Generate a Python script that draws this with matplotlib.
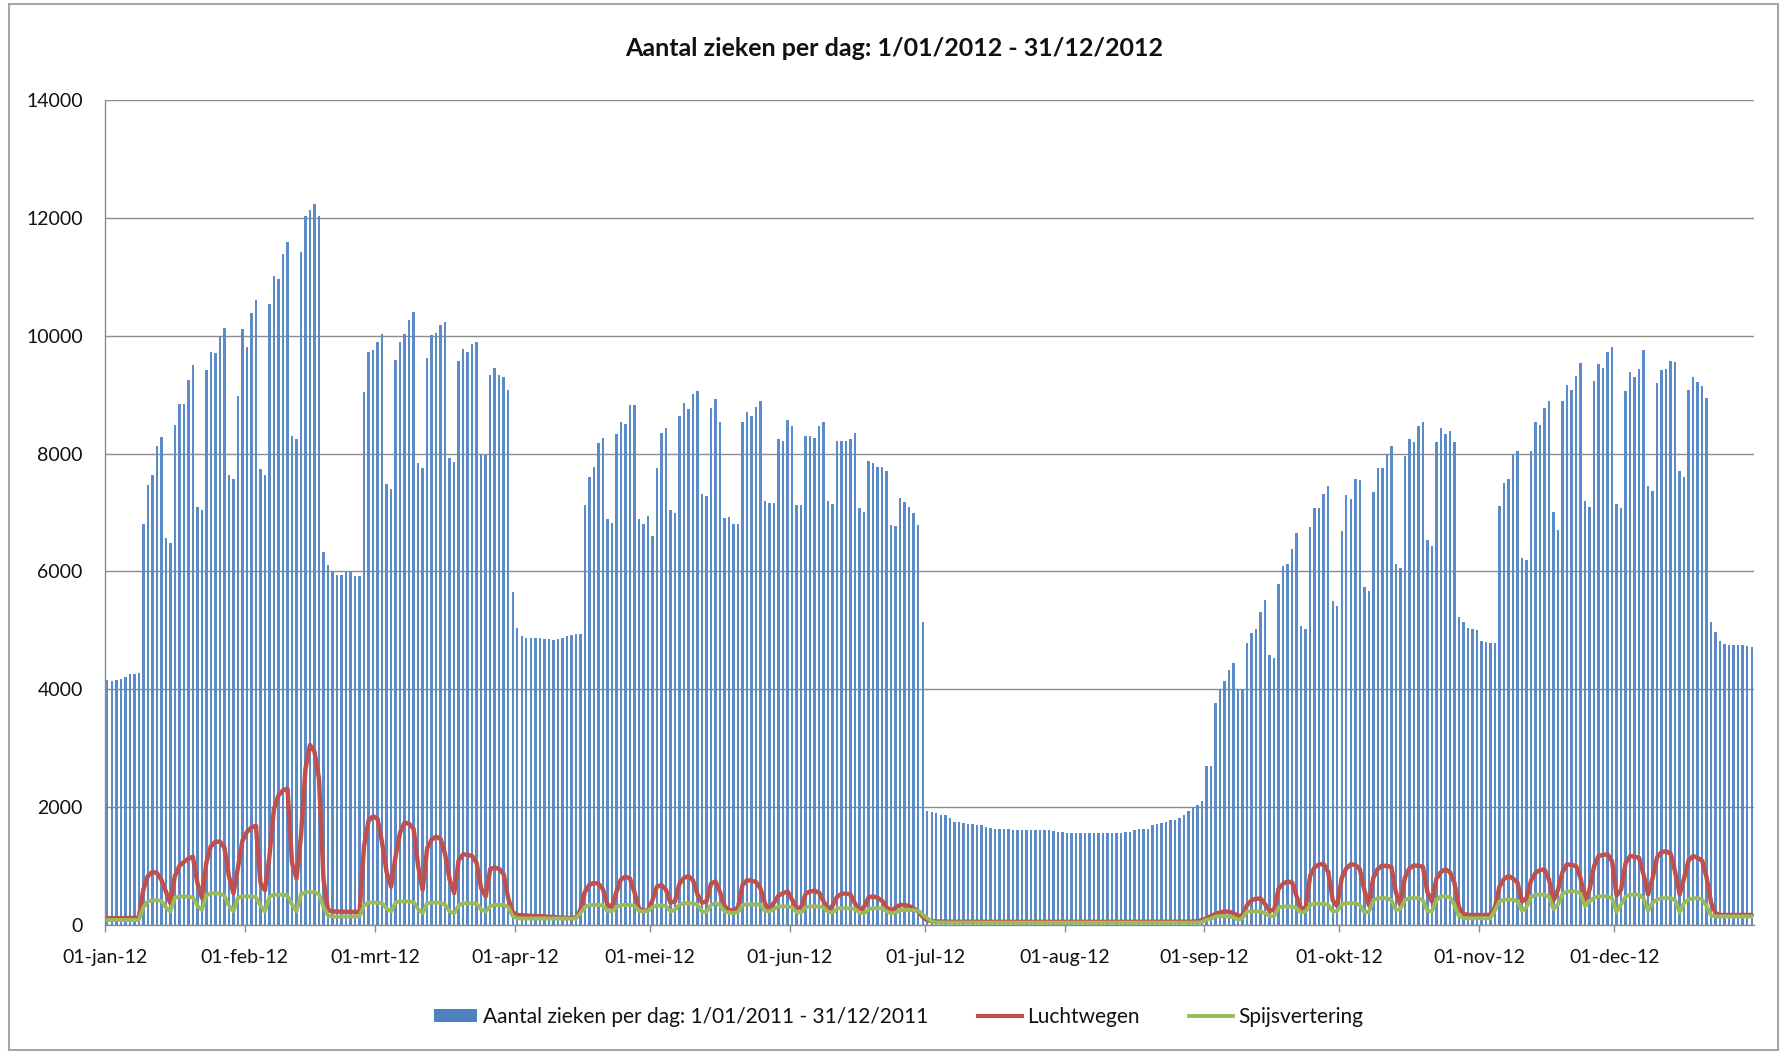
import numpy as np
import pandas as pd
import matplotlib
matplotlib.use("Agg")
import matplotlib.pyplot as plt
from matplotlib.patches import Rectangle, Patch
from matplotlib.lines import Line2D

title = "Aantal zieken per dag: 1/01/2012 - 31/12/2012"
series_names = ["Aantal zieken per dag: 1/01/2011 - 31/12/2011", "Luchtwegen", "Spijsvertering"]
month_labels = ["01-jan-12", "01-feb-12", "01-mrt-12", "01-apr-12", "01-mei-12", "01-jun-12",
                "01-jul-12", "01-aug-12", "01-sep-12", "01-okt-12", "01-nov-12", "01-dec-12"]
y_ticks = [0, 2000, 4000, 6000, 8000, 10000, 12000, 14000]

# daily values, 1 Jan 2012 .. 31 Dec 2012 (first 8 days, then weeks Mon..Sun, then 31 Dec)
zieken = [
    4160, 4135, 4150, 4175, 4215, 4260, 4260, 4280,
    6800, 7460, 7640, 8120, 8285, 6560, 6480,
    8490, 8835, 8835, 9255, 9500, 7090, 7050,
    9420, 9720, 9700, 9990, 10130, 7630, 7560,
    8970, 10110, 9805, 10380, 10600, 7730, 7640,
    10545, 11010, 10970, 11385, 11590, 8300, 8245,
    11425, 12025, 12130, 12230, 12025, 6330, 6105,
    5985, 5940, 5940, 5985, 5985, 5920, 5920,
    9040, 9720, 9765, 9890, 10030, 7480, 7400,
    9585, 9890, 10030, 10275, 10405, 7835, 7750,
    9625, 10010, 10050, 10175, 10240, 7930, 7860,
    9575, 9780, 9725, 9865, 9890, 7990, 7970,
    9335, 9460, 9330, 9295, 9080, 5655, 5040,
    4900, 4875, 4875, 4875, 4875, 4850, 4850,
    4835, 4850, 4875, 4900, 4915, 4930, 4930,
    7120, 7610, 7770, 8180, 8260, 6890, 6830,
    8340, 8530, 8505, 8820, 8820, 6890, 6805,
    6945, 6600, 7750, 8350, 8430, 7035, 6985,
    8630, 8860, 8755, 9010, 9065, 7320, 7280,
    8780, 8925, 8530, 6905, 6930, 6805, 6805,
    8530, 8710, 8630, 8795, 8885, 7190, 7160,
    7160, 8245, 8220, 8575, 8465, 7135, 7120,
    8300, 8300, 8270, 8465, 8530, 7190, 7150,
    8205, 8205, 8205, 8245, 8350, 7070, 7010,
    7875, 7835, 7770, 7770, 7710, 6780, 6765,
    7240, 7175, 7095, 6985, 6780, 5140, 1930,
    1915, 1900, 1875, 1860, 1815, 1750, 1750,
    1735, 1710, 1710, 1695, 1695, 1670, 1645,
    1625, 1625, 1625, 1625, 1620, 1610, 1610,
    1610, 1610, 1610, 1605, 1605, 1605, 1600,
    1585, 1585, 1565, 1560, 1560, 1560, 1560,
    1560, 1560, 1560, 1560, 1560, 1560, 1560,
    1565, 1570, 1585, 1610, 1625, 1625, 1630,
    1695, 1710, 1725, 1750, 1790, 1790, 1810,
    1875, 1930, 2000, 2040, 2105, 2700, 2690,
    3760, 4010, 4140, 4320, 4440, 4000, 3980,
    4790, 4960, 5030, 5310, 5510, 4575, 4525,
    5790, 6100, 6130, 6385, 6660, 5070, 5030,
    6750, 7075, 7070, 7315, 7445, 5490, 5410,
    6680, 7300, 7235, 7560, 7545, 5735, 5670,
    7340, 7750, 7750, 8000, 8120, 6125, 6065,
    7955, 8245, 8200, 8475, 8530, 6540, 6435,
    8200, 8435, 8340, 8390, 8200, 5230, 5135,
    5040, 5015, 5000, 4815, 4810, 4790, 4790,
    7110, 7505, 7560, 8000, 8040, 6230, 6190,
    8040, 8530, 8490, 8780, 8885, 7010, 6700,
    8885, 9165, 9080, 9310, 9535, 7200, 7095,
    9230, 9520, 9450, 9725, 9805, 7150, 7075,
    9065, 9380, 9300, 9440, 9760, 7445, 7365,
    9190, 9420, 9435, 9575, 9560, 7710, 7600,
    9080, 9295, 9215, 9150, 8940, 5135, 4980,
    4815, 4775, 4760, 4760, 4750, 4750, 4740,
    4725,
]

luchtwegen = [
    115, 115, 115, 115, 118, 120, 120, 125,
    600, 830, 900, 885, 770, 570, 370,
    830, 1000, 1070, 1125, 1160, 715, 460,
    1060, 1340, 1410, 1415, 1315, 830, 540,
    970, 1430, 1580, 1655, 1685, 715, 590,
    1170, 1970, 2200, 2285, 2315, 1055, 790,
    1515, 2655, 3055, 2940, 2485, 770, 255,
    230, 228, 225, 225, 225, 222, 220,
    1340, 1770, 1845, 1800, 1400, 900, 650,
    1170, 1570, 1740, 1715, 1630, 1000, 600,
    1300, 1450, 1500, 1460, 1200, 770, 540,
    1100, 1200, 1190, 1170, 1050, 620, 485,
    950, 975, 950, 860, 450, 220, 170,
    165, 160, 155, 150, 150, 145, 140,
    135, 130, 125, 120, 120, 125, 250,
    560, 680, 715, 700, 610, 350, 300,
    560, 770, 820, 790, 560, 280, 240,
    250, 420, 650, 680, 600, 380, 400,
    700, 800, 830, 760, 520, 380, 400,
    700, 740, 560, 320, 260, 240, 300,
    680, 760, 750, 730, 620, 360, 260,
    380, 500, 540, 570, 430, 280, 300,
    530, 570, 580, 550, 400, 260, 330,
    480, 530, 535, 515, 360, 240, 310,
    470, 485, 460, 410, 300, 230, 300,
    340, 340, 320, 280, 230, 140, 80,
    65, 60, 58, 56, 55, 55, 55,
    55, 55, 54, 54, 54, 53, 53,
    53, 53, 52, 52, 52, 52, 52,
    52, 52, 52, 52, 52, 52, 52,
    52, 52, 52, 52, 52, 52, 52,
    52, 52, 52, 52, 52, 52, 52,
    52, 52, 52, 53, 53, 53, 54,
    54, 54, 55, 55, 55, 55, 55,
    55, 55, 58, 65, 85, 115, 150,
    190, 215, 230, 225, 200, 150, 170,
    340, 420, 445, 450, 350, 240, 260,
    620, 700, 740, 720, 480, 270, 300,
    840, 980, 1030, 1030, 900, 420, 320,
    800, 960, 1030, 1020, 950, 600, 340,
    800, 950, 1010, 1000, 990, 560, 340,
    800, 960, 1010, 1005, 990, 560, 400,
    780, 900, 945, 900, 720, 300, 190,
    170, 170, 170, 170, 170, 175, 300,
    650, 780, 830, 790, 720, 400, 450,
    750, 885, 930, 945, 770, 420, 600,
    900, 1030, 1020, 1000, 800, 420, 600,
    1000, 1170, 1190, 1200, 1080, 500, 600,
    1050, 1170, 1160, 1140, 850, 520, 800,
    1150, 1240, 1250, 1210, 900, 520, 800,
    1100, 1170, 1140, 1090, 800, 370, 200,
    170, 170, 170, 170, 170, 170, 170,
    170,
]

spijsvertering = [
    85, 85, 85, 85, 85, 85, 85, 85,
    300, 400, 420, 420, 410, 300, 230,
    460, 485, 485, 480, 470, 330, 255,
    500, 540, 540, 530, 500, 330, 230,
    460, 485, 485, 485, 470, 330, 230,
    480, 515, 515, 515, 500, 350, 230,
    520, 555, 560, 555, 520, 300, 160,
    145, 143, 143, 143, 143, 143, 145,
    330, 380, 380, 380, 370, 280, 230,
    380, 400, 400, 400, 390, 270, 200,
    370, 380, 380, 380, 340, 230, 200,
    330, 370, 370, 370, 360, 260, 230,
    320, 340, 340, 340, 300, 150, 115,
    110, 110, 110, 110, 110, 110, 110,
    110, 110, 110, 110, 110, 110, 200,
    300, 340, 340, 340, 330, 240, 230,
    300, 340, 340, 340, 330, 240, 230,
    240, 300, 330, 330, 320, 230, 260,
    340, 370, 370, 370, 340, 230, 220,
    340, 370, 340, 230, 210, 200, 220,
    340, 350, 350, 350, 340, 240, 230,
    270, 315, 315, 315, 300, 220, 210,
    300, 315, 315, 315, 300, 220, 210,
    280, 285, 285, 285, 270, 210, 200,
    270, 285, 285, 280, 230, 200, 210,
    255, 255, 255, 250, 240, 180, 115,
    60, 45, 42, 42, 42, 42, 42,
    42, 41, 41, 41, 40, 40, 40,
    40, 40, 40, 40, 40, 40, 40,
    40, 40, 40, 40, 40, 40, 40,
    40, 40, 40, 40, 40, 40, 40,
    40, 40, 40, 40, 40, 40, 40,
    40, 40, 40, 40, 40, 40, 40,
    40, 40, 40, 40, 40, 40, 40,
    40, 40, 40, 42, 50, 90, 110,
    145, 150, 150, 145, 130, 90, 120,
    230, 230, 230, 230, 200, 150, 150,
    300, 315, 315, 315, 280, 210, 230,
    340, 360, 360, 360, 340, 230, 240,
    350, 370, 370, 370, 340, 220, 220,
    420, 455, 455, 455, 420, 260, 270,
    420, 455, 455, 455, 420, 240, 230,
    420, 485, 485, 470, 340, 150, 115,
    115, 115, 115, 115, 115, 115, 250,
    400, 430, 430, 430, 400, 240, 300,
    470, 515, 515, 515, 480, 270, 350,
    530, 570, 570, 570, 530, 320, 400,
    460, 485, 485, 485, 450, 220, 350,
    480, 515, 515, 515, 450, 240, 380,
    430, 455, 455, 455, 420, 210, 380,
    430, 455, 455, 430, 320, 160, 145,
    145, 145, 145, 145, 145, 145, 145,
    145,
]

assert len(zieken) == 366 and len(luchtwegen) == 366 and len(spijsvertering) == 366

dates = pd.date_range("2012-01-01", periods=len(zieken), freq="D")
month_starts = pd.date_range("2012-01-01", periods=12, freq="MS")
xc = dates + pd.Timedelta(hours=12)

plt.rcParams["font.family"] = ["Lato", "DejaVu Sans"]

W, H = 1786, 1054
fig = plt.figure(figsize=(W / 100, H / 100), dpi=100)
fig.patch.set_facecolor("white")

ax = fig.add_axes([105 / W, 1 - 925 / H, (1754 - 105) / W, (925 - 100) / H])
ax.bar(xc, zieken, width=0.55, color="#5b8bc8", linewidth=0, zorder=2)
ax.plot(xc, luchtwegen, color="#C0504D", lw=3.2, zorder=3,
        solid_joinstyle="round", solid_capstyle="round")
ax.plot(xc, spijsvertering, color="#9BBB59", lw=2.8, zorder=3,
        solid_joinstyle="round", solid_capstyle="round")

ax.set_xlim(dates[0], dates[-1] + pd.Timedelta(days=1))
ax.set_ylim(0, 14000)
ax.set_yticks(y_ticks)
ax.set_yticklabels([str(v) for v in y_ticks])
ax.set_xticks(month_starts)
ax.set_xticklabels(month_labels)

ax.grid(axis="y", color="#8c8c8c", lw=1.0, zorder=0)
ax.set_axisbelow(True)
for s in ["top", "right"]:
    ax.spines[s].set_visible(False)
for s in ["left", "bottom"]:
    ax.spines[s].set_color("#8c8c8c")
    ax.spines[s].set_linewidth(1.0)
ax.tick_params(axis="y", length=0, pad=16, labelsize=14, labelcolor="#111111")
ax.tick_params(axis="x", length=5, width=1, color="#8c8c8c", pad=12, labelsize=14, labelcolor="#111111")

fig.text(894 / W, 1 - 49 / H, title, ha="center", va="center", fontsize=18, fontweight="bold", color="#111111")

handles = [Patch(facecolor="#4F81BD", edgecolor="none"),
           Line2D([], [], color="#C0504D", lw=3.0),
           Line2D([], [], color="#9BBB59", lw=2.8)]
fig.legend(handles, series_names, loc="center", bbox_to_anchor=(0.503, 1 - 1017 / H), ncol=3,
           frameon=False, fontsize=15, handlelength=2.1, handleheight=0.6, columnspacing=2.4,
           handletextpad=0.25, labelcolor="#111111")

fig.add_artist(Rectangle((9 / W, 4 / H), (1778 - 9) / W, (1050 - 4) / H, transform=fig.transFigure,
                         fill=False, edgecolor="#a6a6a6", lw=1.5))

fig.savefig("out.png", dpi=100)
